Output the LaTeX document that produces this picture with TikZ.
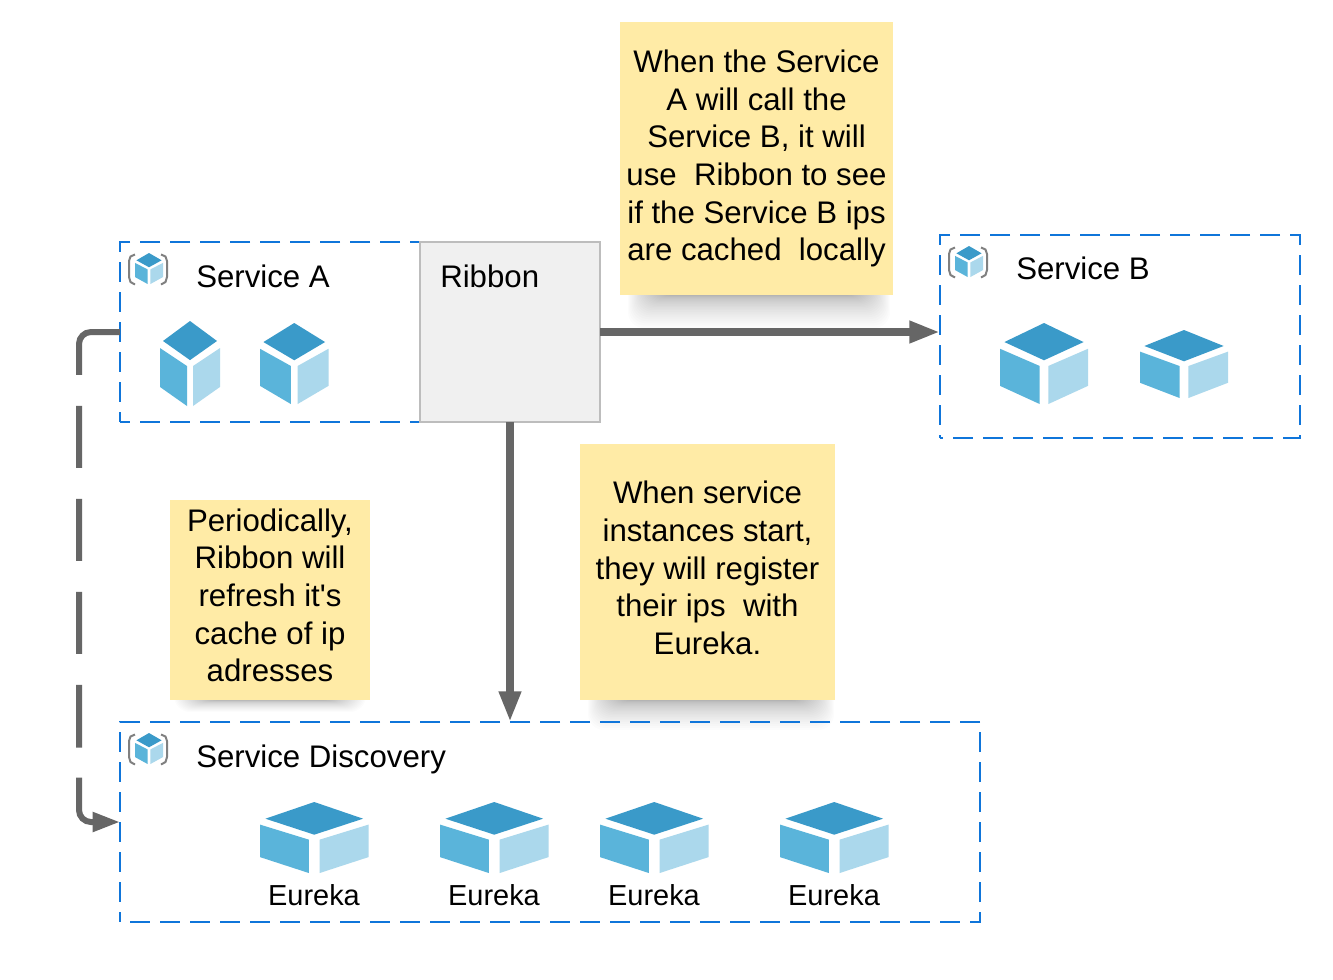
\documentclass[tikz,border=0pt]{standalone}
\usepackage{fontspec}
\setmainfont{Liberation Sans}
\newfontfamily\plainsans{Liberation Sans}
\usetikzlibrary{arrows.meta,positioning}
\definecolor{notefill}{HTML}{FFEBA6}
\definecolor{dashblue}{HTML}{0F75DA}
\definecolor{arrowgray}{HTML}{666666}
\definecolor{ribbonfill}{HTML}{F0F0F0}
\definecolor{ribbonline}{HTML}{BDBDBD}
\definecolor{cubetop}{HTML}{3A9AC9}
\definecolor{cubeleft}{HTML}{5AB4DA}
\definecolor{cuberight}{HTML}{ABD8EC}
\definecolor{bracketgray}{HTML}{808080}
\tikzset{
  dashbox/.style={draw=dashblue,line width=2.1pt,dash pattern=on 15pt off 7.5pt,anchor=north west,inner sep=0pt,outer sep=0pt},
  ribbonbox/.style={draw=ribbonline,fill=ribbonfill,line width=1.2pt,anchor=north west,inner sep=0pt,outer sep=0pt},
  note/.style={fill=notefill,anchor=north west,inner sep=0pt,outer sep=0pt,align=center,font=\plainsans\fontsize{23.4}{28.25}\selectfont},
  label/.style={anchor=base west,inner sep=0pt,font=\fontsize{23.4}{28}\selectfont},
  eulabel/.style={anchor=base,inner sep=0pt,font=\fontsize{21.7}{26}\selectfont},
  conn/.style={draw=arrowgray,line width=6pt,-{Triangle[length=23pt,width=15.5pt]}},
  dashconn/.style={draw=arrowgray,line width=4.5pt,rounded corners=9pt,-{Triangle[length=20.5pt,width=14pt]},
    dash pattern=on 59pt off 23.25pt on 46.5pt off 23.25pt on 46.5pt off 23.25pt on 46.5pt off 23.25pt on 47pt off 22.5pt on 200pt off 0pt},
}
% x y w h
\newcommand{\cubeglyph}[4]{%
  \begin{scope}[shift={(#1,#2)},x={(#3*0.75pt,0)},y={(0,-#4*0.75pt)}]
    \fill[cubetop] (.5,0)--(.95,.235)--(.5,.46)--(.05,.235)--cycle;
    \fill[cubeleft] (0,.318)--(.45,.53)--(.45,1)--(0,.776)--cycle;
    \fill[cuberight] (1,.318)--(.55,.53)--(.55,1)--(1,.776)--cycle;
  \end{scope}}
% x y : top-left of icon
\newcommand{\iconglyph}[2]{%
  \begin{scope}[shift={(#1,#2)}]
    \cubeglyph{7}{0}{28}{31}
    \draw[bracketgray,line width=1.5pt,line join=round] (7,1.5)--(2.5,3.5)--(1,8)--(1,24)--(2.5,29)--(7,31.5);
    \draw[bracketgray,line width=1.5pt,line join=round] (33,1.5)--(37.5,3.5)--(39,8)--(39,24)--(37.5,29)--(33,31.5);
  \end{scope}}
% x1 bottom-of-note x2 y2: soft shadow under a note
\newcommand{\noteshadow}[4]{%
  \foreach \i in {0,...,27}{
    \fill[black,opacity=.0105,rounded corners=12pt]
      ({#1+\i*1.1},{#2-25}) rectangle ({#3-\i*1.1},{#4-(#4-#2)*(1-(1-\i/28)*(1-\i/28))});
  }}
% invisible strut: lifts a note's text by half its depth
\newcommand{\lift}[1]{\rule[-#1]{0pt}{1pt}}
\begin{document}
\begin{tikzpicture}[x=0.75pt,y=-0.75pt]
\useasboundingbox (0,0) rectangle (1333,979);
\fill[white] (0,0) rectangle (1333,979);

% shadows
\noteshadow{628}{295}{890}{328}
\noteshadow{174}{700}{366}{712}
\noteshadow{588}{700}{834}{730}

% boxes
\node[dashbox,dash phase=7.5pt,minimum width=225pt,minimum height=135pt] (svcA) at (120,242) {};
\node[dashbox,dash phase=12.75pt,minimum width=270pt,minimum height=152.25pt] (svcB) at (940,235) {};
\node[dashbox,dash phase=15pt,minimum width=645pt,minimum height=150pt] (disc) at (120,722) {};
\node[ribbonbox,minimum width=135pt,minimum height=135pt] (ribbon) at (420,242) {};

% notes
\node[note,minimum width=204.75pt,minimum height=204.75pt] (noteTop) at (620,22)
  {When the Service\\A will call the\\Service B, it will\\use\ \ Ribbon to see\\if the Service B ips\\are cached\ \ locally\lift{2.5pt}};
\node[note,minimum width=150pt,minimum height=150pt] (noteLeft) at (170,500)
  {Periodically,\\Ribbon will\\refresh it's\\cache of ip\\adresses\lift{7pt}};
\node[note,minimum width=191.25pt,minimum height=192pt] (noteMid) at (580,444)
  {When service\\instances start,\\they will register\\their ips\ \ with\\Eureka.\lift{6pt}};

% labels
\node[label] (lblA) at (196,287) {Service A};
\node[label] (lblB) at (1016,279) {Service B};
\node[label] (lblD) at (196,767) {Service Discovery};
\node[label] (lblR) at (440,287) {Ribbon};
\node[eulabel] (eu1) at (314,905) {Eureka};
\node[eulabel] (eu2) at (494,905) {Eureka};
\node[eulabel] (eu3) at (654,905) {Eureka};
\node[eulabel] (eu4) at (834,905) {Eureka};

% cubes
\iconglyph{128}{253}
\iconglyph{948}{246}
\iconglyph{128}{733}
\cubeglyph{160}{321}{60}{85}
\cubeglyph{260}{323}{68.5}{81}
\cubeglyph{1000}{323}{88}{81}
\cubeglyph{1140}{330}{88}{68}
\cubeglyph{260}{802}{108.5}{71}
\cubeglyph{440}{802}{108.5}{71}
\cubeglyph{600}{802}{108.5}{71}
\cubeglyph{780}{802}{108.5}{71}

% connectors
\draw[conn] (ribbon.east) -- (ribbon.east -| svcB.west);
\draw[conn] (ribbon.south) -- (ribbon.south |- disc.north);
\coordinate (bendTop) at ([xshift=-30.75pt]svcA.west);
\coordinate (bendBot) at ([xshift=-30.75pt]disc.west);
\draw[dashconn] (svcA.west) -- (bendTop) -- (bendBot) -- (disc.west);
\end{tikzpicture}
\end{document}
